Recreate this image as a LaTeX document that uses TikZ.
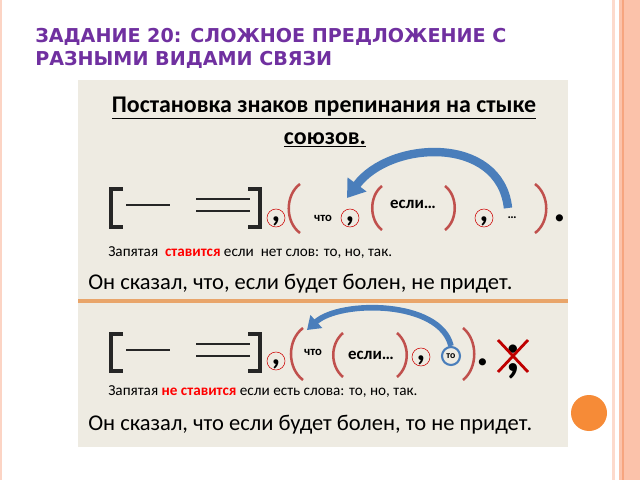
\documentclass[tikz,border=0pt]{standalone}
\usepackage{fontspec}
\setmainfont{Carlito}
\newfontfamily\titlefont{DejaVu Sans}
\usetikzlibrary{arrows.meta}
\definecolor{slidepurple}{HTML}{7030A0}
\definecolor{panelgray}{HTML}{EEEBE2}
\definecolor{stripeorange}{HTML}{FBC2AA}
\definecolor{stripedark}{HTML}{F6A57F}
\definecolor{sepline}{HTML}{E9A56A}
\definecolor{parenred}{HTML}{C0504D}
\definecolor{arrowblue}{HTML}{4A7EBB}
\definecolor{dotorange}{HTML}{F68B37}
\tikzset{
  bracket/.style={line width=2.2pt, black!85},
  dash line/.style={line width=1.6pt, black!85},
  paren/.style={line width=1.8pt, parenred},
  commacirc/.style={circle, draw=red!80!black, thin, minimum size=18*0.025cm, inner sep=0pt},
  commamark/.style={font=\bfseries\fontsize{24}{24}\selectfont, inner sep=0pt},
  word/.style={font=\bfseries, inner sep=1pt},
  bigarrow/.style={line width=6pt, arrowblue, -{Triangle[length=12pt,width=16pt]}},
  rule/.style={anchor=west, font=\fontsize{10.8}{12}\selectfont, inner sep=0pt},
  example/.style={anchor=west, font=\fontsize{16}{18}\selectfont, inner sep=0pt}
}
\newcommand{\sqbracketL}[3]{\draw[bracket] (#1+12,#2) -- (#1,#2) -- (#1,#3) -- (#1+12,#3);}
\newcommand{\sqbracketR}[3]{\draw[bracket] (#1-12,#2) -- (#1,#2) -- (#1,#3) -- (#1-12,#3);}
\newcommand{\commaat}[2]{\node[commacirc] (#1) at (#2) {}; \node[commamark] at ([yshift=-2.5pt]#1.center) {,};}
\begin{document}
\begin{tikzpicture}[x=0.025cm,y=-0.025cm]
\useasboundingbox (0,0) rectangle (640,480);

% Slide frame

\fill[white] (0,0) rectangle (640,480);
\fill[stripeorange!60] (612,0) rectangle (615,480);
\fill[stripeorange] (619,0) rectangle (640,480);
\fill[stripedark] (622,0) rectangle (624,480);
\fill[stripeorange!70] (0,0) rectangle (2,480);

\node[anchor=north west, align=left, text=slidepurple, font=\titlefont\bfseries\fontsize{13.6}{16.5}\selectfont, inner sep=0pt] (title) at (35,28) {ЗАДАНИЕ 20: СЛОЖНОЕ ПРЕДЛОЖЕНИЕ С\\РАЗНЫМИ ВИДАМИ СВЯЗИ};

% Panel

\fill[panelgray] (78,80) rectangle (568,447);
\draw[sepline, line width=2.5pt] (78,301) -- (568,301);

\node[font=\bfseries\fontsize{17}{20}\selectfont, inner sep=0pt] (head1) at (324,108) {\underline{Постановка знаков препинания на стыке}};
\node[font=\bfseries\fontsize{17}{20}\selectfont, inner sep=0pt] (head2) at (325,140) {\underline{союзов.}};

% Row one

\sqbracketL{111}{189}{227}
\draw[dash line] (126,205) -- (170,205);
\draw[dash line] (196,199) -- (250,199);
\draw[dash line] (196,211) -- (250,211);
\sqbracketR{260}{189}{227}

\commaat{commaA}{276,218}
\draw[paren] (300,184) .. controls (285,195) and (285,222) .. (300,233);
\node[word, font=\bfseries\small] (chtoA) at (323,218) {что};
\commaat{commaB}{350,218}
\draw[paren] (382,186) .. controls (369,196) and (369,220) .. (382,230);
\node[word, font=\bfseries\large] (esliA) at (413,204) {если…};
\draw[paren] (445,186) .. controls (458,196) and (458,220) .. (445,230);
\commaat{commaC}{484,218}
\node[word, font=\bfseries\small] (dotsA) at (512,218) {…};
\draw[paren] (535,184) .. controls (550,195) and (550,222) .. (535,233);
\node[word, font=\bfseries\fontsize{34}{34}\selectfont] (endA) at (560,218) {.};

\draw[bigarrow] (508,208) .. controls (500,135) and (390,140) .. (347,198);

\node[rule] (ruleA) at (108,253) {Запятая \ \textcolor{red}{\bfseries ставится} если \ нет слов: то, но, так.};
\node[example] (exA) at (88,284) {Он сказал, что, если будет болен, не придет.};

% Row two

\sqbracketL{111}{334}{371}
\draw[dash line] (126,350) -- (170,350);
\draw[dash line] (196,344) -- (250,344);
\draw[dash line] (196,356) -- (250,356);
\sqbracketR{260}{334}{371}

\commaat{commaD}{276,361}
\draw[paren] (303,328) .. controls (287,340) and (287,368) .. (303,380);
\node[word, font=\bfseries\small] (chtoB) at (313,352) {что};
\draw[paren] (343,333) .. controls (330,344) and (330,366) .. (343,377);
\node[word, font=\bfseries\large] (esliB) at (371,355) {если…};
\draw[paren] (397,333) .. controls (410,344) and (410,366) .. (397,377);
\commaat{commaE}{421,357}
\node[circle, draw=arrowblue, line width=1.5pt, minimum size=18*0.025cm, inner sep=0pt, font=\bfseries\scriptsize] (toB) at (451,356) {то};
\draw[paren] (463,328) .. controls (478,340) and (478,368) .. (463,380);
\node[word, font=\bfseries\fontsize{34}{34}\selectfont] (endB) at (483,362) {.};
\node[word, font=\bfseries\fontsize{40}{40}\selectfont] (semi) at (513,362) {;};
\draw[red!75!black, line width=2pt] (498,340) -- (528,372);
\draw[red!75!black, line width=2pt] (528,340) -- (498,372);

\draw[bigarrow, line width=4pt, -{Triangle[length=9pt,width=12pt]}] (toB.north) .. controls (440,300) and (340,300) .. (307,330);

\node[rule] (ruleB) at (108,392) {Запятая \textcolor{red}{\bfseries не ставится} если есть слова: то, но, так.};
\node[example] (exB) at (88,425) {Он сказал, что если будет болен, то не придет.};

% Bullet

\fill[dotorange] (589,413) circle (18);

\end{tikzpicture}
\end{document}
